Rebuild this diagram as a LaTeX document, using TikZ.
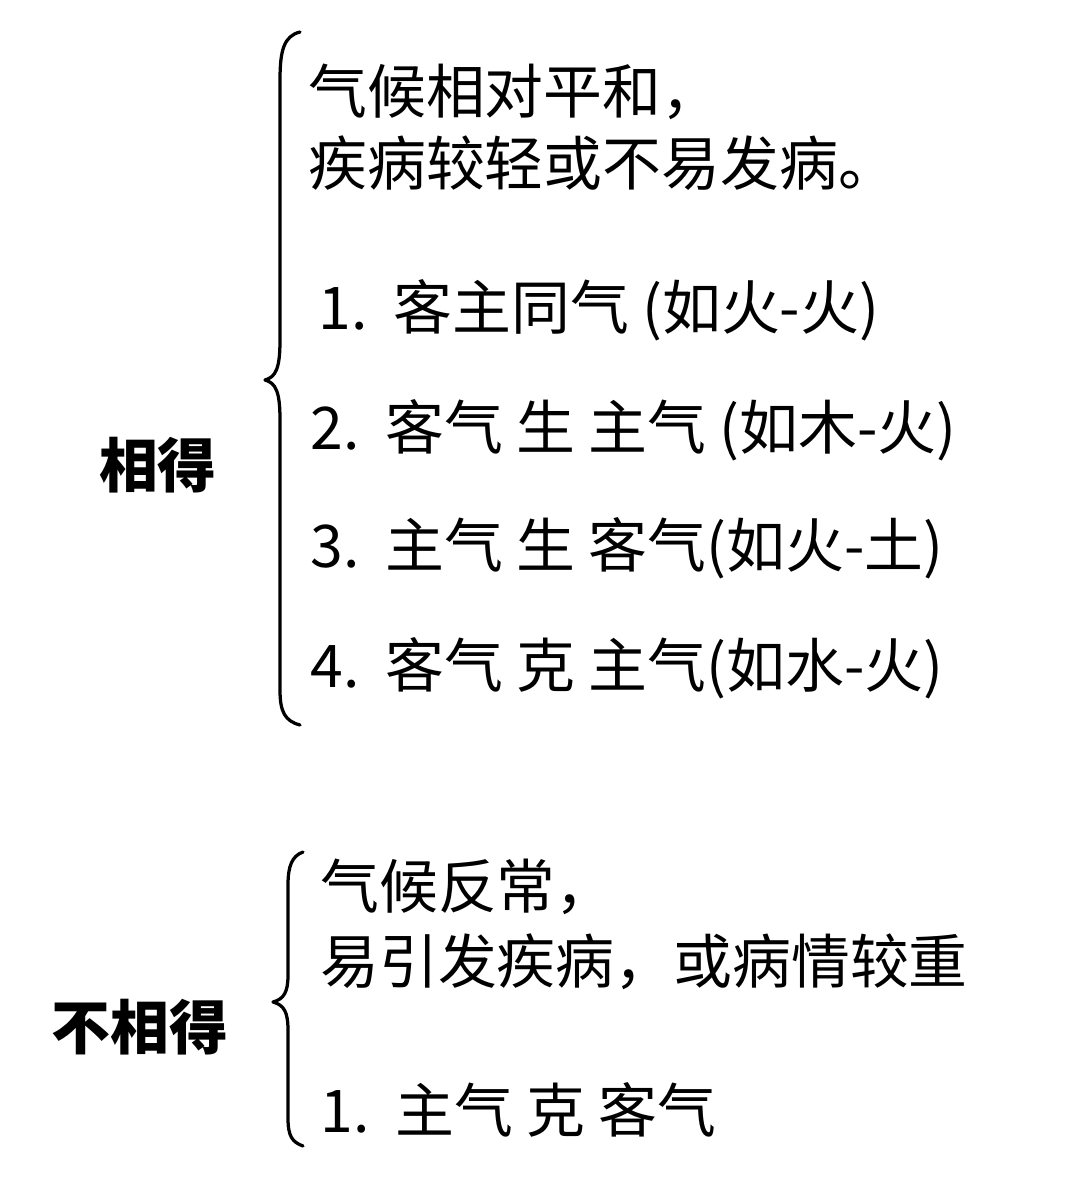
\documentclass[tikz,border=0pt]{standalone}
\usepackage{fontspec}
\setmainfont{Noto Sans CJK SC}
\begin{document}
\begin{tikzpicture}[x=0.02cm,y=-0.02cm,
  txt/.style={anchor=west,inner sep=0pt,font=\fontsize{33.5}{40}\selectfont},
  lbl/.style={inner sep=0pt,font=\fontsize{33.5}{40}\selectfont\bfseries},
  brace/.style={line width=0.065cm,line cap=round,line join=round}]
\useasboundingbox[fill=white] (0,0) rectangle (1080,1181);
\draw[brace] (300,32) .. controls (284,36) and (280,50) .. (280,80) -- (280,340) .. controls (280,368) and (276,377) .. (265,380) .. controls (276,383) and (280,392) .. (280,420) -- (280,690) .. controls (280,712) and (285,721) .. (300,725);
\draw[brace] (303,852) .. controls (292,856) and (288,866) .. (288,885) -- (288,975) .. controls (288,992) and (284,999) .. (273,1002) .. controls (284,1005) and (288,1012) .. (288,1030) -- (288,1118) .. controls (288,1136) and (292,1142) .. (303,1146);
\node[lbl] (a) at (158,465) {相得};
\node[lbl] (b) at (140,1027) {不相得};
\node[txt] (t1) at (308,92) {气候相对平和，};
\node[txt] (t2) at (308,163) {疾病较轻或不易发病。};
\node[txt] (t3) at (318,310) {1.\ \ 客主同气 (如火-火)};
\node[txt] (t4) at (310,430) {2.\ \ 客气 生 主气 (如木-火)};
\node[txt] (t5) at (310,548) {3.\ \ 主气 生 客气(如火-土)};
\node[txt] (t6) at (310,668) {4.\ \ 客气 克 主气(如水-火)};
\node[txt] (u1) at (320,887) {气候反常，};
\node[txt] (u2) at (320,962) {易引发疾病，或病情较重};
\node[txt] (u3) at (320,1110) {1.\ \ 主气 克 客气};
\end{tikzpicture}
\end{document}
